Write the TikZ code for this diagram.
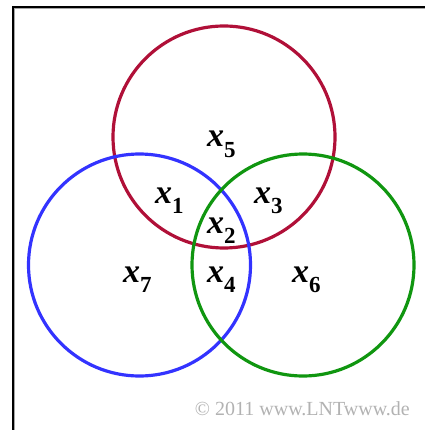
\documentclass[tikz,border=0pt]{standalone}
\usepackage{fontspec}
\setmainfont{Liberation Serif}
\usepackage{xcolor}
\definecolor{ringred}{RGB}{176,16,56}
\definecolor{ringblue}{RGB}{51,51,255}
\definecolor{ringgreen}{RGB}{16,150,16}
\newcommand{\xsym}[1]{{\bfseries\itshape x}\raisebox{-0.3em}{\fontsize{23}{23}\selectfont\bfseries #1}}

\begin{document}
\begin{tikzpicture}[x=1pt,y=-1pt,
    lbl/.style={anchor=base west, inner sep=0pt, font=\fontsize{34}{36}\selectfont}]
    \useasboundingbox (0,0) rectangle (425,430);
    \draw[line width=2pt] (12.5,430) -- (12.5,7.5) -- (425,7.5);
    \draw[black!35, line width=1pt] (14.5,430) -- (14.5,9) -- (425,9);
    % the three sets
    \coordinate (cR) at (224,137);
    \coordinate (cB) at (139.5,265);
    \coordinate (cG) at (303,265);
    \draw[ringred, line width=3.2pt] (cR) circle [radius=111pt];
    \draw[ringblue, line width=3.2pt] (cB) circle [radius=111pt];
    \draw[ringgreen, line width=3.2pt] (cG) circle [radius=111pt];
    \node[lbl] (x5) at (207,147) {\xsym{5}};
    \node[lbl] (x1) at (155,203) {\xsym{1}};
    \node[lbl] (x3) at (254,203) {\xsym{3}};
    \node[lbl] (x2) at (207,233) {\xsym{2}};
    \node[lbl] (x7) at (123,282) {\xsym{7}};
    \node[lbl] (x4) at (207,282) {\xsym{4}};
    \node[lbl] (x6) at (292,282) {\xsym{6}};
    \node[anchor=base east, inner sep=0pt, text=black!30, font=\fontsize{20}{21}\selectfont] (copy) at (410,415) {© 2011 www.LNTwww.de};
\end{tikzpicture}
\end{document}
